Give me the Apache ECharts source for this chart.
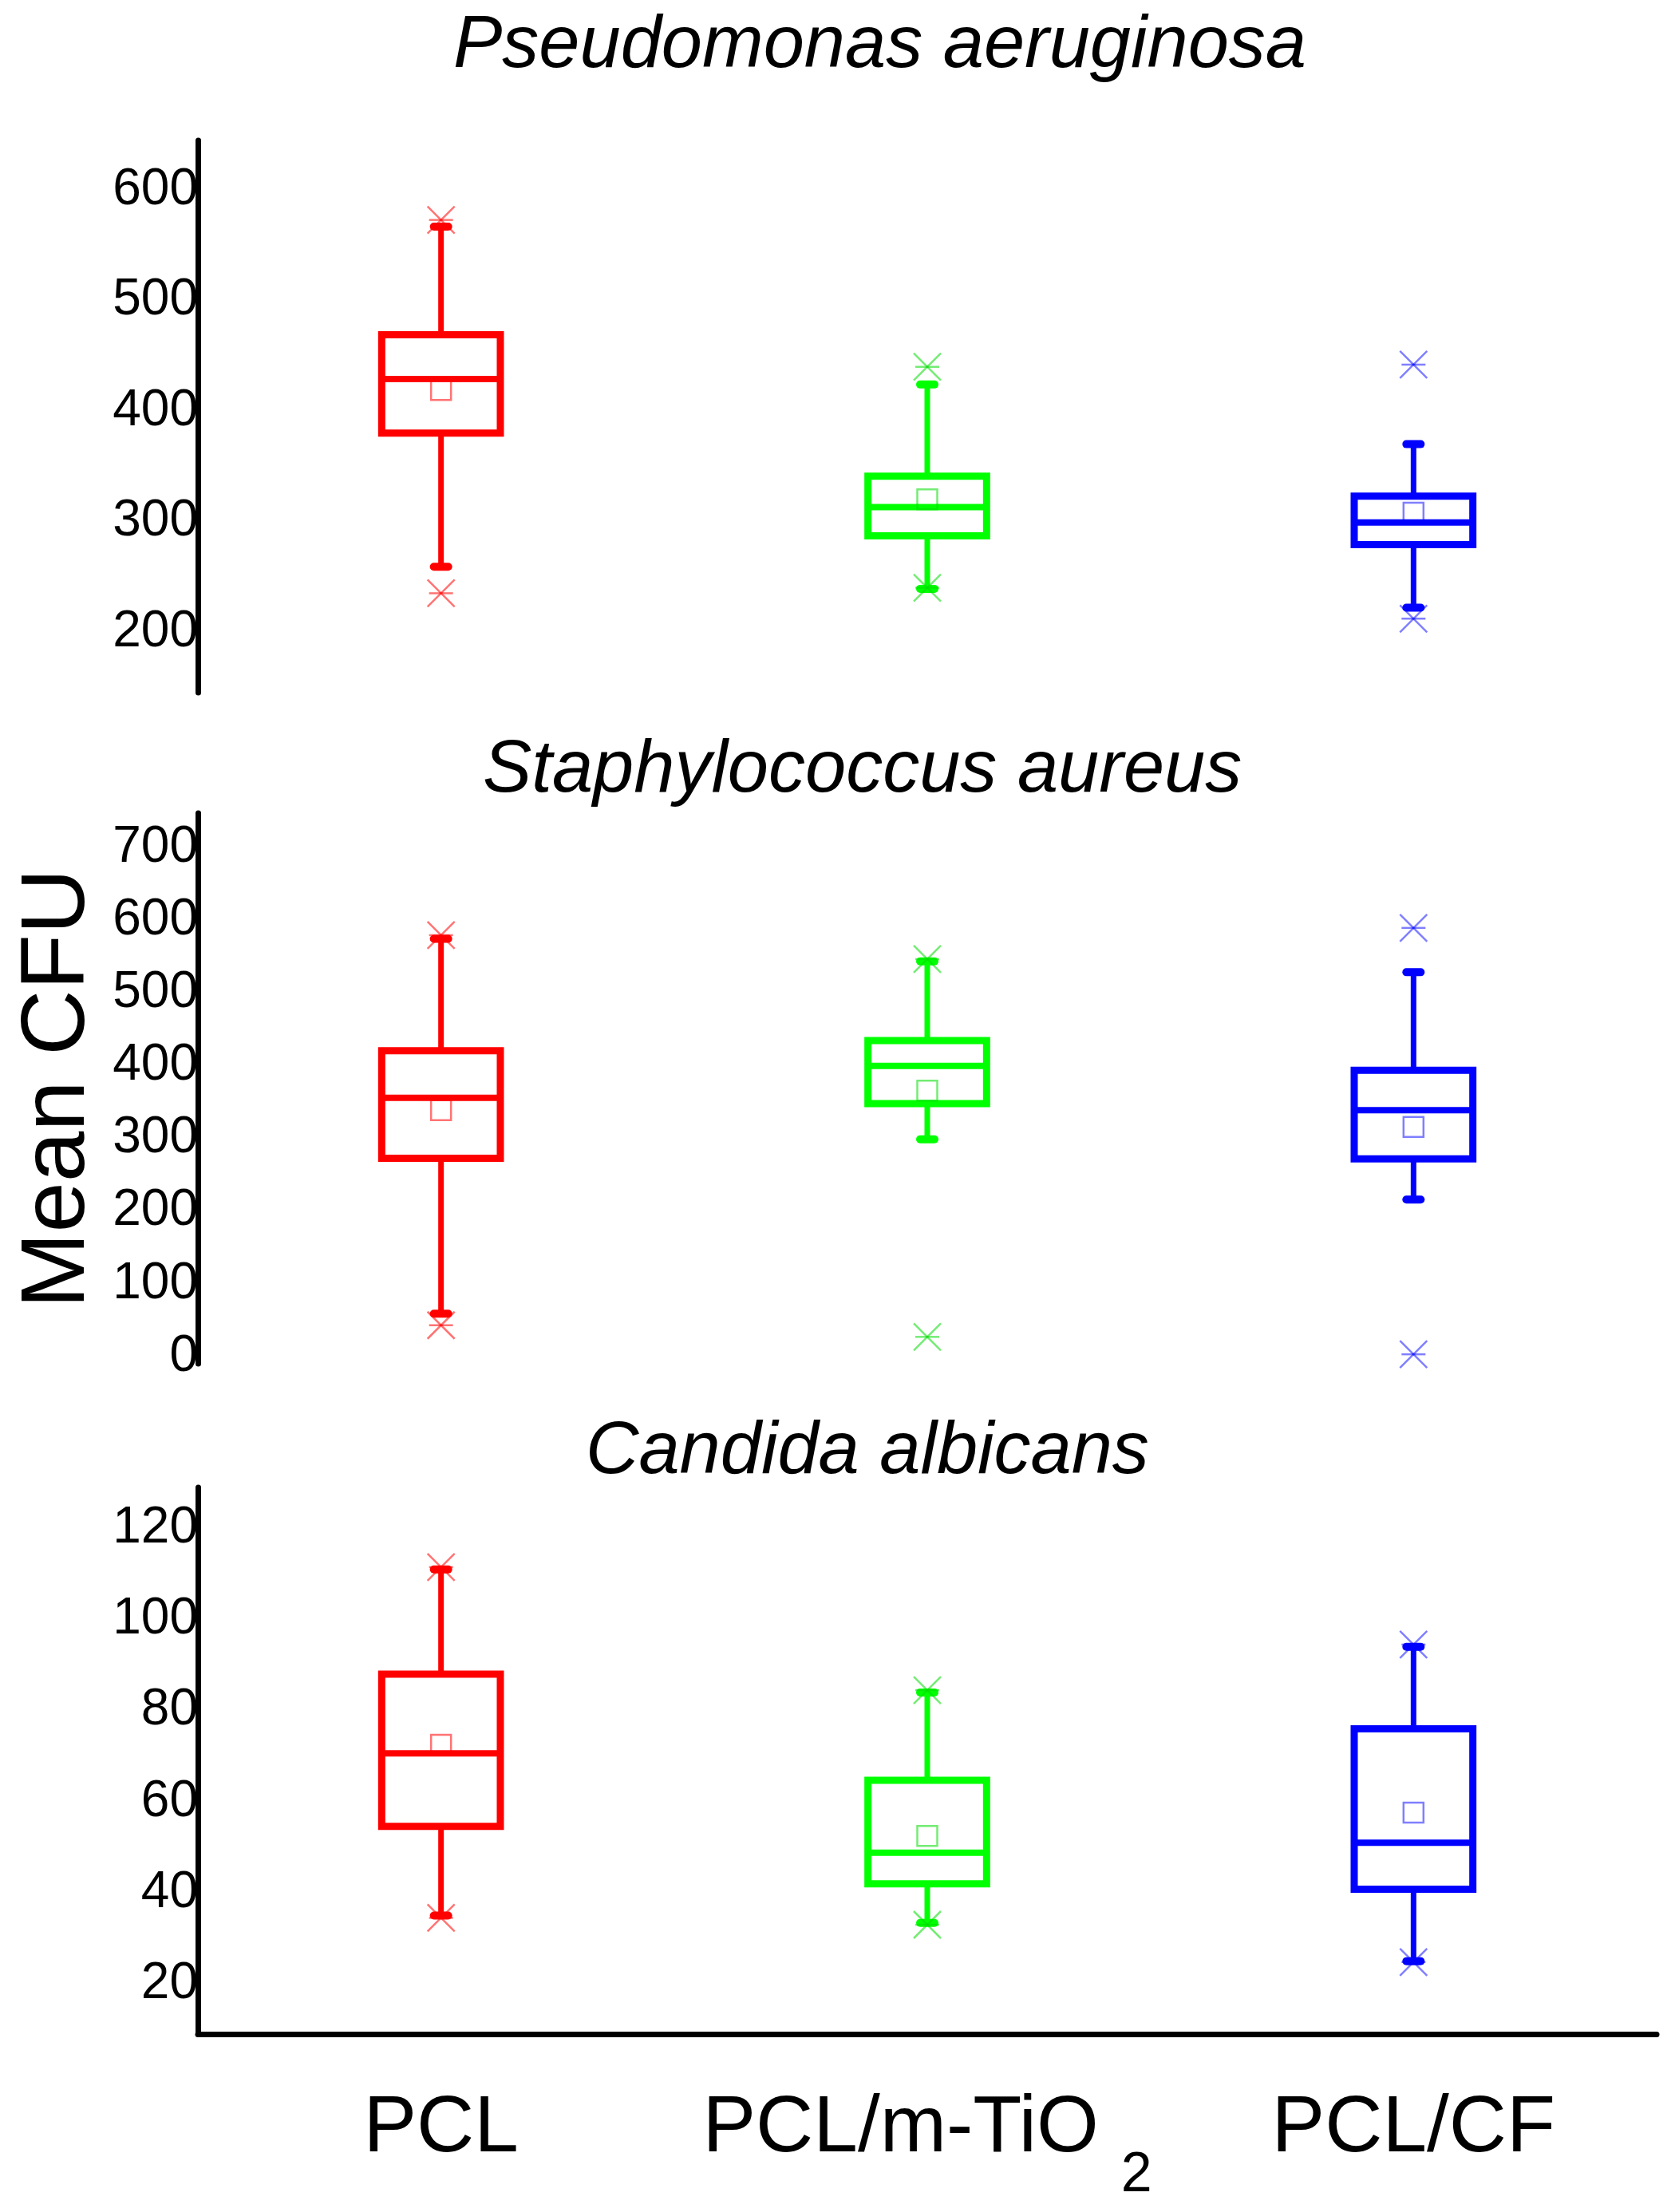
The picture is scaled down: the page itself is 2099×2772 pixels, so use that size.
<!DOCTYPE html>
<html><head><meta charset="utf-8">
<script src="https://cdn.jsdelivr.net/npm/echarts@6/dist/echarts.min.js"></script>
<style>html,body{margin:0;padding:0;background:#fff}#c{width:2099px;height:2772px}</style>
</head><body><div id="c"></div>
<script>
const categories = ['PCL', 'PCL/m-TiO2', 'PCL/CF'];
const panelTitles = ['Pseudomonas aeruginosa', 'Staphylococcus aureus', 'Candida albicans'];
const yAxisName = 'Mean CFU';

// Each box: [min, Q1, median, Q3, max]
const paBox = [[259, 380, 429, 469, 567], [239, 287, 313, 341, 424], [222, 279, 299, 323, 370]];
const paMean = [419, 320, 308];
const paOutliers = [[573, 235], [440, 240], [442, 212]];

const saBox = [[59, 273, 356, 421, 575], [299, 348, 400, 435, 544], [216, 272, 339, 394, 529]];
const saMean = [339, 366, 316];
const saOutliers = [[580, 43], [547, 27], [590, 3]];

const caBox = [[35, 54.6, 70.6, 88, 111], [33.4, 42, 48.8, 64.7, 84], [25, 40.8, 51, 76, 94]];
const caMean = [72.5, 52.5, 57.6];
const caOutliers = [[111.5, 34.5], [84.5, 33], [94.5, 24.8]];

const paTicks = [200, 300, 400, 500, 600];
const saTicks = [0, 100, 200, 300, 400, 500, 600, 700];
const caTicks = [20, 40, 60, 80, 100, 120];

const paRange = [145, 645];
const saRange = [-10, 748];
const caRange = [9, 129];

const colors = ['#ff0000', '#00ff00', '#0000ff'];
const lightColors = ['rgba(255,0,0,0.55)', 'rgba(0,220,0,0.55)', 'rgba(0,0,255,0.5)'];
const FONT = 'Liberation Sans, Arial, sans-serif';

function boxData(box, mean) {
  return box.map((b, i) => [i, b[0], b[1], b[2], b[3], b[4], mean[i]]);
}
function outlierData(out) {
  const res = [];
  out.forEach((vals, i) => vals.forEach(v => res.push([i, v])));
  return res;
}

function renderBox(params, api) {
  const i = api.value(0);
  const c = colors[i];
  const band = api.size([1, 0])[0];
  const half = band * 0.122;
  const pMin = api.coord([i, api.value(1)]);
  const pQ1 = api.coord([i, api.value(2)]);
  const pMed = api.coord([i, api.value(3)]);
  const pQ3 = api.coord([i, api.value(4)]);
  const pMax = api.coord([i, api.value(5)]);
  const pMean = api.coord([i, api.value(6)]);
  const x = pMed[0];
  const ls = { stroke: c, lineWidth: 7, fill: null };
  return {
    type: 'group',
    children: [
      { type: 'line', shape: { x1: x, y1: pMax[1], x2: x, y2: pQ3[1] }, style: ls },
      { type: 'line', shape: { x1: x, y1: pQ1[1], x2: x, y2: pMin[1] }, style: ls },
      { type: 'line', shape: { x1: x - 9, y1: pMax[1], x2: x + 9, y2: pMax[1] }, style: { stroke: c, lineWidth: 10, lineCap: 'round' } },
      { type: 'line', shape: { x1: x - 9, y1: pMin[1], x2: x + 9, y2: pMin[1] }, style: { stroke: c, lineWidth: 10, lineCap: 'round' } },
      { type: 'rect', shape: { x: x - half, y: pQ3[1], width: half * 2, height: pQ1[1] - pQ3[1] }, style: { stroke: c, lineWidth: 9, fill: null } },
      { type: 'line', shape: { x1: x - half, y1: pMed[1], x2: x + half, y2: pMed[1] }, style: { stroke: c, lineWidth: 8 } },
      { type: 'rect', shape: { x: x - 12.5, y: pMean[1] - 12.5, width: 25, height: 25 }, style: { stroke: lightColors[i], lineWidth: 2.5, fill: null } }
    ]
  };
}

function renderOutlier(params, api) {
  const i = api.value(0);
  const p = api.coord([i, api.value(1)]);
  const r = 17;
  const st = { stroke: lightColors[i], lineWidth: 2.5 };
  return {
    type: 'group',
    children: [
      { type: 'line', shape: { x1: p[0] - r, y1: p[1] - r, x2: p[0] + r, y2: p[1] + r }, style: st },
      { type: 'line', shape: { x1: p[0] - r, y1: p[1] + r, x2: p[0] + r, y2: p[1] - r }, style: st },
      { type: 'line', shape: { x1: p[0] - r + 2, y1: p[1], x2: p[0] + r - 2, y2: p[1] }, style: st }
    ]
  };
}

const grids = [
  { left: 248, right: 23, top: 176, height: 692 },
  { left: 248, right: 23, top: 1019, height: 690 },
  { left: 248, right: 23, top: 1864, height: 685 }
];

function yAxisDef(idx, range, ticks, split, extra) {
  return Object.assign({
    type: 'value', gridIndex: idx, min: range[0], max: range[1], splitNumber: split,
    axisLine: { show: true, lineStyle: { color: '#000', width: 7 } },
    axisTick: { show: false },
    splitLine: { show: false },
    axisLabel: { customValues: ticks, fontSize: 64, color: '#000', fontFamily: FONT, margin: 0 }
  }, extra || {});
}

const xAxes = [0, 1, 2].map(idx => ({
  type: 'category', gridIndex: idx, data: categories, boundaryGap: true,
  show: idx === 2,
  axisLine: { onZero: false, lineStyle: { color: '#000', width: 7 } },
  axisTick: { show: false },
  axisLabel: {
    margin: 69,
    interval: 0,
    formatter: function (v) {
      if (v === 'PCL/m-TiO2') return '{a|PCL/m-TiO}{b|2}';
      return '{a|' + v + '}';
    },
    rich: {
      a: { fontSize: 100, lineHeight: 110, verticalAlign: 'top', color: '#000', fontFamily: FONT },
      b: { fontSize: 70, lineHeight: 72, padding: [74, 0, 0, 28], verticalAlign: 'top', color: '#000', fontFamily: FONT }
    }
  }
}));

const titleLefts = [568, 605, 734];
const titleTops = [12, 920, 1774];

const option = {
  backgroundColor: '#fff',
  animation: false,
  title: panelTitles.map((t, i) => ({
    text: t, left: titleLefts[i], top: titleTops[i], padding: 0,
    textStyle: { fontSize: 92, fontStyle: 'italic', fontWeight: 'normal', color: '#000', fontFamily: FONT }
  })),
  grid: grids,
  xAxis: xAxes,
  yAxis: [
    yAxisDef(0, paRange, paTicks, 5),
    yAxisDef(1, saRange, saTicks, 8, {
      name: yAxisName, nameLocation: 'middle', nameRotate: 90, nameGap: 102,
      nameTextStyle: { fontSize: 114, color: '#000', fontFamily: FONT }
    }),
    yAxisDef(2, caRange, caTicks, 6)
  ],
  series: [
    { type: 'custom', xAxisIndex: 0, yAxisIndex: 0, renderItem: renderBox, data: boxData(paBox, paMean), encode: { x: 0, y: [1, 2, 3, 4, 5, 6] } },
    { type: 'custom', xAxisIndex: 0, yAxisIndex: 0, renderItem: renderOutlier, data: outlierData(paOutliers), encode: { x: 0, y: 1 } },
    { type: 'custom', xAxisIndex: 1, yAxisIndex: 1, renderItem: renderBox, data: boxData(saBox, saMean), encode: { x: 0, y: [1, 2, 3, 4, 5, 6] } },
    { type: 'custom', xAxisIndex: 1, yAxisIndex: 1, renderItem: renderOutlier, data: outlierData(saOutliers), encode: { x: 0, y: 1 } },
    { type: 'custom', xAxisIndex: 2, yAxisIndex: 2, renderItem: renderBox, data: boxData(caBox, caMean), encode: { x: 0, y: [1, 2, 3, 4, 5, 6] } },
    { type: 'custom', xAxisIndex: 2, yAxisIndex: 2, renderItem: renderOutlier, data: outlierData(caOutliers), encode: { x: 0, y: 1 } }
  ]
};

const chart = echarts.init(document.getElementById('c'), null, { renderer: 'canvas' });
chart.setOption(option);
</script>
</body></html>
